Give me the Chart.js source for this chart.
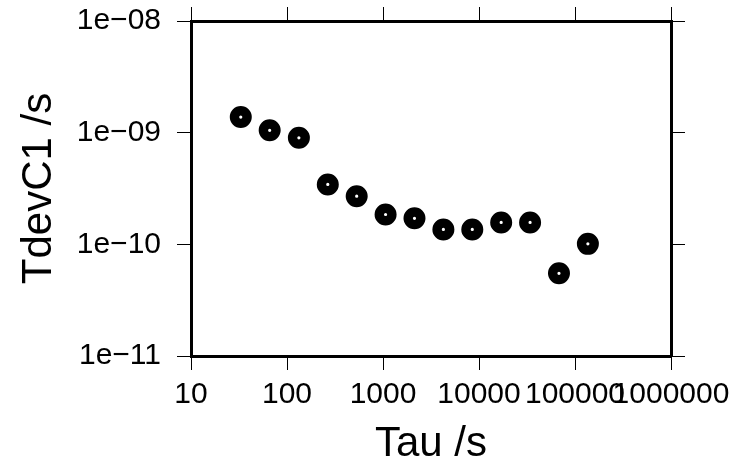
<!DOCTYPE html>
<html>
<head>
<meta charset="utf-8">
<script src="https://cdn.jsdelivr.net/npm/chart.js@4/dist/chart.umd.min.js"></script>
<style>
  html, body { margin: 0; padding: 0; background: #fff; }
  #wrap { width: 755px; height: 467px; }
</style>
</head>
<body>
<div id="wrap"><canvas id="chart" width="755" height="467"></canvas></div>
<script>
// dane
const tau = [33, 66, 133, 266, 532, 1064, 2128, 4256, 8512, 17024, 34048, 68096, 136192]
const tdev = [1.38e-9, 1.05e-9, 9.0e-10, 3.44e-10, 2.70e-10, 1.85e-10, 1.71e-10, 1.36e-10, 1.36e-10, 1.57e-10, 1.57e-10, 5.5e-11, 1.01e-10]

const xTicks = [10, 100, 1000, 10000, 100000, 1000000]
const xTickLabels = ['10', '100', '1000', '10000', '100000', '1000000']
const yTicks = [1e-11, 1e-10, 1e-9, 1e-8]
const yTickLabels = ['1e\u221211', '1e\u221210', '1e\u221209', '1e\u221208']

const fontFamily = '"Liberation Sans", Arial, Helvetica, sans-serif'
const chartCanvas = document.getElementById("chart")

function setTicks(values) {
  return function(scale) {
    scale.ticks = values.map(v => ({ value: v }))
  }
}

// stały rozmiar osi, bez dodatkowego marginesu od etykiet
function fixSize(prop, size) {
  return function(s) {
    s[prop] = size
    s.paddingTop = 0
    s.paddingBottom = 0
    s.paddingLeft = 0
    s.paddingRight = 0
  }
}

const tickGrid = {
  display: true,
  drawOnChartArea: false,
  drawTicks: true,
  tickLength: 14,
  color: '#000',
  lineWidth: 1
}
const frame = { display: true, color: '#000', width: 3 }

let chart = new Chart(chartCanvas, {
  type: 'scatter',
  data: {
    datasets: [{
      label: 'TdevC1',
      data: tau.map((t, i) => ({ x: t, y: tdev[i] })),
      pointStyle: 'circle',
      pointRadius: 6.3,
      pointHoverRadius: 6.3,
      borderWidth: 9.4,
      borderColor: '#000',
      backgroundColor: '#fff',
      showLine: false
    }]
  },
  options: {
    responsive: false,
    animation: false,
    events: [],
    layout: { padding: { top: 7, right: 70, bottom: 0, left: 0 } },
    plugins: { legend: { display: false }, tooltip: { enabled: false } },
    scales: {
      x: {
        type: 'logarithmic',
        position: 'bottom',
        min: 10, max: 1000000,
        afterBuildTicks: setTicks(xTicks),
        afterFit: fixSize('height', 111),
        grid: tickGrid,
        border: frame,
        ticks: {
          autoSkip: false, maxRotation: 0, minRotation: 0,
          padding: 10,
          color: '#000',
          font: { family: fontFamily, size: 30, lineHeight: 1 },
          callback: (v, i) => xTickLabels[i]
        },
        title: {
          display: true, text: 'Tau /s', color: '#000',
          font: { family: fontFamily, size: 42, lineHeight: 1 },
          padding: { top: 0, bottom: 2 }
        }
      },
      x2: {
        type: 'logarithmic',
        position: 'top',
        min: 10, max: 1000000,
        afterBuildTicks: setTicks(xTicks),
        afterFit: fixSize('height', 14),
        grid: tickGrid,
        border: frame,
        ticks: { display: false }
      },
      y: {
        type: 'logarithmic',
        position: 'left',
        min: 1e-11, max: 1e-8,
        afterBuildTicks: setTicks(yTicks),
        afterFit: fixSize('width', 191),
        grid: tickGrid,
        border: frame,
        ticks: {
          padding: 16,
          color: '#000',
          font: { family: fontFamily, size: 30, lineHeight: 1 },
          callback: (v, i) => yTickLabels[i]
        },
        title: {
          display: true, text: 'TdevC1 /s', color: '#000',
          font: { family: fontFamily, size: 42, lineHeight: 1 },
          padding: { top: 18, bottom: 0 }
        }
      },
      y2: {
        type: 'logarithmic',
        position: 'right',
        min: 1e-11, max: 1e-8,
        afterBuildTicks: setTicks(yTicks),
        afterFit: fixSize('width', 14),
        grid: tickGrid,
        border: frame,
        ticks: { display: false }
      }
    }
  }
})
</script>
</body>
</html>
